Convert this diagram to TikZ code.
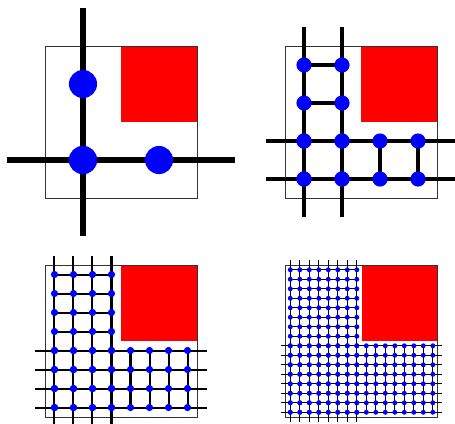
\documentclass[tikz,border=0pt]{standalone}
\usepackage{tikz}

% #1,#2 origin, #3 mesh width, #4 nodes per half side, #5 line width, #6 dot radius
\newcommand{\lpanel}[6]{%
  \begin{scope}[shift={(#1,#2)}, line width=#5]
    \fill[red] (2,2) rectangle (4,4);
    \draw[frame] (0,0) rectangle (4,4);
    \pgfmathsetmacro\hh{#3/2}
    \pgfmathsetmacro\qq{2-#3/2}
    \pgfmathtruncatemacro\nn{2*#4}
    \foreach \i in {1,...,#4} {
      \pgfmathsetmacro\p{(\i-0.5)*#3}
      \pgfmathsetmacro\s{2+\p}
      \draw (\p,-\hh) -- (\p,4+\hh);
      \draw (-\hh,\p) -- (4+\hh,\p);
      \draw (\hh,\s) -- (\qq,\s);
      \draw (\s,\hh) -- (\s,\qq);
    }
    \foreach \i in {1,...,#4} {
      \foreach \j in {1,...,\nn} {
        \fill[dot] ({(\i-0.5)*#3},{(\j-0.5)*#3}) circle (#6);
        \fill[dot] ({(\j-0.5)*#3},{(\i-0.5)*#3}) circle (#6);
      }
    }
  \end{scope}}

\begin{document}
\begin{tikzpicture}[scale=1.0,
    frame/.style={line width=0.6pt, black!80},
    dot/.style={blue}]
  \useasboundingbox (-1.184,-5.921) rectangle (10.789,5.211);
  \lpanel{0}{0}{2}{1}{4.5pt}{0.37}
  \lpanel{6.316}{0}{1}{2}{3pt}{0.2}
  \lpanel{0}{-5.763}{0.5}{4}{1.5pt}{0.095}
  \lpanel{6.33}{-5.763}{0.25}{8}{1pt}{0.065}
\end{tikzpicture}
\end{document}
